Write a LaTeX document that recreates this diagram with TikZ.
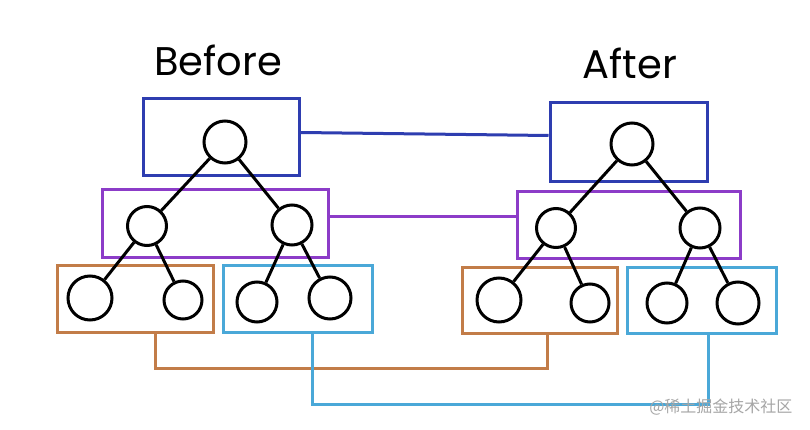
\documentclass[tikz,border=0pt]{standalone}
\usepackage{fontspec}
\setmainfont{Poppins}
\newfontfamily\cjk{Noto Sans CJK SC}
\definecolor{cblue}{HTML}{2E3DB0}
\definecolor{cpurple}{HTML}{8C3CC8}
\definecolor{corange}{HTML}{C27C48}
\definecolor{ccyan}{HTML}{4AA8D8}
\begin{document}
\begin{tikzpicture}[x=1pt,y=-1pt,
  grp/.style={draw=#1, line width=3pt, rectangle, inner sep=0pt},
  nd/.style={draw=black, line width=3pt, circle, inner sep=0pt, minimum size=#1},
  edge/.style={draw=black, line width=3pt},
  link/.style={draw=#1, line width=3pt},
  title/.style={font=\fontsize{40}{40}\selectfont, text=black}]
\useasboundingbox (0,0) rectangle (810,430);
\fill[white] (0,0) rectangle (810,430);

% titles
\node[title] (tb) at (218,60) {Before};
\node[title] (ta) at (630,63) {After};

% ---- Before ----
\node[grp=cblue, minimum width=156pt, minimum height=77pt] (bB) at (221,137.5) {};
\node[grp=cpurple, minimum width=226pt, minimum height=67pt] (bP) at (215,223.5) {};
\node[grp=corange, minimum width=156pt, minimum height=67pt] (bO) at (135,298.5) {};
\node[grp=ccyan, minimum width=149pt, minimum height=67pt] (bC) at (297.5,298.5) {};

\node[nd=42pt] (b0) at (225,142) {};
\node[nd=39pt] (b1) at (147,226) {};
\node[nd=40pt] (b2) at (292,225) {};
\node[nd=44pt] (b3) at (90,298) {};
\node[nd=38pt] (b4) at (183,300) {};
\node[nd=40pt] (b5) at (257,302) {};
\node[nd=42pt] (b6) at (330,298) {};
\draw[edge] (b0) -- (b1);
\draw[edge] (b0) -- (b2);
\draw[edge] (b1) -- (b3);
\draw[edge] (b1) -- (b4);
\draw[edge] (b2) -- (b5);
\draw[edge] (b2) -- (b6);

% ---- After ----
\node[grp=cblue, minimum width=157pt, minimum height=79pt] (aB) at (628.5,142.5) {};
\node[grp=cpurple, minimum width=223pt, minimum height=66pt] (aP) at (628.5,225) {};
\node[grp=corange, minimum width=155pt, minimum height=66pt] (aO) at (539.5,300) {};
\node[grp=ccyan, minimum width=149pt, minimum height=66pt] (aC) at (701.5,300) {};

\node[nd=42pt] (a0) at (632,144) {};
\node[nd=39pt] (a1) at (556,228) {};
\node[nd=40pt] (a2) at (700,228) {};
\node[nd=44pt] (a3) at (499,300) {};
\node[nd=38pt] (a4) at (590,303) {};
\node[nd=40pt] (a5) at (667,303) {};
\node[nd=42pt] (a6) at (738,303) {};
\draw[edge] (a0) -- (a1);
\draw[edge] (a0) -- (a2);
\draw[edge] (a1) -- (a3);
\draw[edge] (a1) -- (a4);
\draw[edge] (a2) -- (a5);
\draw[edge] (a2) -- (a6);

% ---- links ----
\draw[link=cblue] ([yshift=5pt]bB.east) -- ([yshift=7pt]aB.west);
\draw[link=cpurple] ([yshift=6.5pt]bP.east) -- ([yshift=8pt]aP.west);
\draw[link=corange] ([xshift=20pt]bO.south) -- ++(0,35) -| ([xshift=7.5pt]aO.south);
\draw[link=ccyan] ([xshift=14.5pt]bC.south) -- ++(0,71) -| ([xshift=6.5pt]aC.south);

% watermark
\node[text=black!35, font=\cjk\fontsize{16}{16}\selectfont, anchor=east] (wm) at (796,407) {@稀土掘金技术社区};
\end{tikzpicture}
\end{document}
